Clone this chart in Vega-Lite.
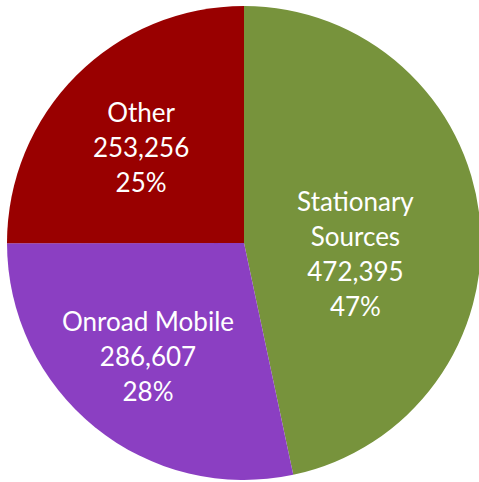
{
  "$schema": "https://vega.github.io/schema/vega-lite/v6.json",
  "width": 474,
  "height": 474,
  "padding": {"left": 7, "top": 6, "right": 0, "bottom": 0},
  "background": "white",
  "config": {"view": {"stroke": null}},
  "data": {
    "values": [
      {"category": "Stationary Sources", "label": "Stationary\nSources", "value": 472395, "order": 1},
      {"category": "Onroad Mobile", "label": "Onroad Mobile", "value": 286607, "order": 2},
      {"category": "Other", "label": "Other", "value": 253256, "order": 3}
    ]
  },
  "transform": [
    {"joinaggregate": [{"op": "sum", "field": "value", "as": "total"}]},
    {"stack": "value", "groupby": [], "sort": [{"field": "order", "order": "ascending"}], "as": ["v0", "v1"]},
    {"calculate": "(datum.v0 + datum.v1) / 2", "as": "mid"},
    {"calculate": "datum.label + '\\n' + format(datum.value, ',') + '\\n' + format(datum.value / datum.total, '.0%')", "as": "text"}
  ],
  "layer": [
    {
      "mark": {"type": "arc", "strokeWidth": 0},
      "encoding": {
        "theta": {"field": "v0", "type": "quantitative", "scale": {"domain": [0, 1012258]}},
        "theta2": {"field": "v1"},
        "color": {
          "field": "category",
          "type": "nominal",
          "scale": {
            "domain": ["Stationary Sources", "Onroad Mobile", "Other"],
            "range": ["#77933C", "#8B3FC2", "#990000"]
          },
          "legend": null
        }
      }
    },
    {
      "transform": [{"filter": "datum.category == 'Stationary Sources'"}],
      "mark": {"type": "text", "radius": 112, "thetaOffset": 0.204, "dy": -51, "font": "Lato", "fontSize": 26, "lineHeight": 35, "color": "white", "align": "center", "baseline": "middle", "lineBreak": "\n"},
      "encoding": {"theta": {"field": "mid", "type": "quantitative"}, "text": {"field": "text"}}
    },
    {
      "transform": [{"filter": "datum.category == 'Onroad Mobile'"}],
      "mark": {"type": "text", "radius": 149, "thetaOffset": 0.02, "dy": -34, "font": "Lato", "fontSize": 26, "lineHeight": 35, "color": "white", "align": "center", "baseline": "middle", "lineBreak": "\n"},
      "encoding": {"theta": {"field": "mid", "type": "quantitative"}, "text": {"field": "text"}}
    },
    {
      "transform": [{"filter": "datum.category == 'Other'"}],
      "mark": {"type": "text", "radius": 140, "thetaOffset": -0.04, "dy": -34, "font": "Lato", "fontSize": 26, "lineHeight": 35, "color": "white", "align": "center", "baseline": "middle", "lineBreak": "\n"},
      "encoding": {"theta": {"field": "mid", "type": "quantitative"}, "text": {"field": "text"}}
    }
  ]
}
